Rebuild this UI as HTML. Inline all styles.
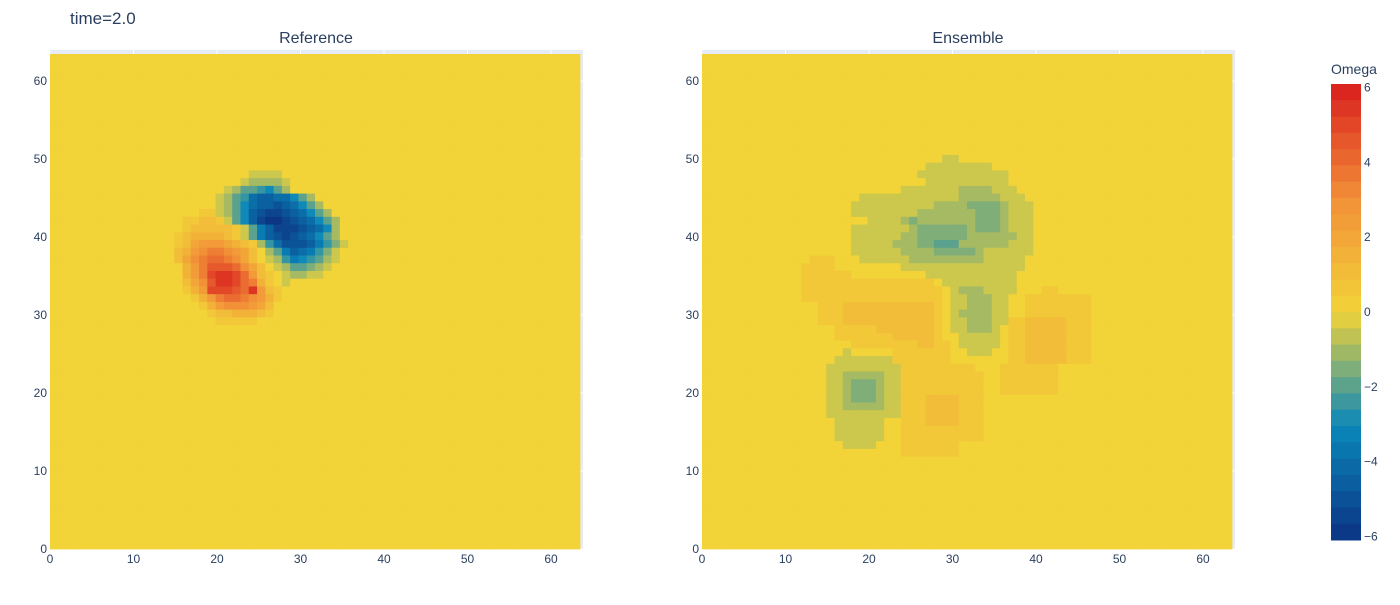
<!DOCTYPE html>
<html><head><meta charset="utf-8"><style>
body{margin:0;background:#fff;font-family:"Liberation Sans",sans-serif}
svg text{font-family:"Liberation Sans",sans-serif;fill:#2a3f5f}
</style></head><body>
<svg id="chart" width="1400" height="600" viewBox="0 0 1400 600" xmlns="http://www.w3.org/2000/svg">
<text x="70" y="24" font-size="17">time=2.0</text>
</svg>
<script>
// level chars: 'a'=-6 ... 'm'=0 ... 'y'=+6 (0.5 steps); '.' = 0
const levelChars = "abcdefghijklmnopqrstuvwxy";
const refStartCol = 14;
const refTopRow = 48;
const refRows = [
"..........llll........",
".........lkkkkl.......",
".......lkiihgik.......",
"......lkiheddeegik....",
"......lkigeddcdegik...",
"....nnlkigdcbbcdegik..",
"..nnoonligdbaabcdegik.",
"..nooooonlifdbbbcdegk.",
".nopppponlifdcbcdegik.",
".noqrrrqponkhecccdfhjl",
".oprsttsrqomkifdefhjl.",
".oqstuutsqomlkhfghikl.",
"..prtvvvusqomlkiijkl..",
"..prtwxxwuronmlkkll...",
"..oqsvxxwutpnml.......",
"..nprwwwvuxron........",
"...nprtuutsrpn........",
"....nprsssrqo.........",
".....noopppon.........",
"......nnnnn..........."
];
// ensemble segments: [row, colStart, colEnd, level]
const ensSegments = [
[50,29,30,'l'],[49,27,34,'l'],[48,26,36,'l'],[47,27,36,'l'],
[46,24,37,'l'],[46,31,34,'k'],[45,19,38,'l'],[45,31,35,'k'],
[44,18,39,'l'],[44,28,36,'k'],[44,32,35,'j'],
[43,18,39,'l'],[43,26,36,'k'],[43,33,35,'j'],
[42,20,39,'l'],[42,24,36,'k'],[42,25,25,'j'],[42,33,35,'j'],
[41,18,39,'l'],[41,25,36,'k'],[41,26,31,'j'],[41,33,35,'j'],
[40,18,39,'l'],[40,24,37,'k'],[40,26,31,'j'],
[39,18,39,'l'],[39,23,36,'k'],[39,26,30,'j'],[39,28,30,'i'],
[38,18,39,'l'],[38,24,33,'k'],[38,28,32,'j'],
[37,19,38,'l'],[37,25,33,'k'],[36,24,38,'l'],[35,27,37,'l'],[34,29,37,'l'],
[33,30,37,'l'],[33,31,33,'k'],[32,30,36,'l'],[32,32,34,'k'],
[31,30,36,'l'],[31,32,34,'k'],[30,30,36,'l'],[30,31,34,'k'],
[29,30,36,'l'],[29,32,34,'k'],[28,30,35,'l'],[28,32,34,'k'],
[27,31,35,'l'],[26,31,35,'l'],[25,32,34,'l'],
[37,13,15,'n'],[36,12,15,'n'],[35,12,17,'n'],[34,12,27,'n'],[33,12,28,'n'],[32,12,28,'n'],
[31,14,28,'n'],[31,17,27,'o'],[30,14,28,'n'],[30,17,27,'o'],[29,14,28,'n'],[29,17,27,'o'],
[28,16,28,'n'],[28,21,27,'o'],[27,16,28,'n'],[27,23,27,'o'],[26,18,29,'n'],[26,26,27,'o'],
[25,23,29,'n'],[24,23,29,'n'],[23,24,32,'n'],
[25,17,17,'l'],[24,16,22,'l'],[23,15,23,'l'],[22,15,23,'l'],[21,15,23,'l'],[20,15,23,'l'],
[19,15,23,'l'],[18,15,23,'l'],[17,15,23,'l'],
[22,17,21,'k'],[21,17,21,'k'],[20,17,21,'k'],[19,17,21,'k'],[18,17,21,'k'],
[21,18,20,'j'],[20,18,20,'j'],[19,18,20,'j'],
[16,16,21,'l'],[15,16,21,'l'],[14,16,21,'l'],[13,17,20,'l'],
[22,24,33,'n'],[21,24,33,'n'],[20,24,33,'n'],[19,24,33,'n'],[18,24,33,'n'],[17,24,33,'n'],
[16,24,33,'n'],[15,24,33,'n'],[14,24,33,'n'],[13,24,30,'n'],[12,24,30,'n'],
[19,27,30,'o'],[18,27,30,'o'],[17,27,30,'o'],[16,27,30,'o'],
[33,41,42,'n'],[32,39,46,'n'],[31,39,46,'n'],[30,39,46,'n'],
[29,37,46,'n'],[28,37,46,'n'],[27,37,46,'n'],[26,37,46,'n'],[25,37,46,'n'],[24,37,46,'n'],
[29,39,43,'o'],[28,39,43,'o'],[27,39,43,'o'],[26,39,43,'o'],[25,39,43,'o'],[24,39,43,'o'],
[23,36,42,'n'],[22,36,42,'n'],[21,36,42,'n'],[20,36,42,'n']
];
const tickValues = [0,10,20,30,40,50,60];
const cbTicks = [6,4,2,0,-2,-4,-6];
const zmin = -6.1, zmax = 6.1, N = 64;

const NS = "http://www.w3.org/2000/svg";
const svg = document.getElementById('chart');
function mk(tag, attrs, parent){const e=document.createElementNS(NS,tag);for(const k in attrs)e.setAttribute(k,attrs[k]);(parent||svg).appendChild(e);return e;}
const scale=[[0,[12,51,131]],[0.25,[10,136,186]],[0.5,[242,211,56]],[0.75,[242,143,56]],[1,[217,30,30]]];
function color(v){let t=(v-zmin)/(zmax-zmin);t=Math.max(0,Math.min(1,t));
 for(let i=1;i<scale.length;i++){if(t<=scale[i][0]){const a=scale[i-1],b=scale[i];const f=(t-a[0])/(b[0]-a[0]);
 const c=a[1].map((x,j)=>Math.round(x+(b[1][j]-x)*f));return `rgb(${c[0]},${c[1]},${c[2]})`;}}return 'rgb(217,30,30)';}
function lv(ch){const i=levelChars.indexOf(ch);return i<0?0:(i-12)*0.5;}

function grid(){const g=[];for(let r=0;r<N;r++)g.push(new Array(N).fill(0));return g;}
const refGrid=grid();
refRows.forEach((s,i)=>{const r=refTopRow-i;for(let j=0;j<s.length;j++)refGrid[r][refStartCol+j]=lv(s[j]);});
const ensGrid=grid();
ensSegments.forEach(([r,c0,c1,ch])=>{for(let c=c0;c<=c1;c++)ensGrid[r][c]=lv(ch);});

function panel(x0,name,title,data){
 const g=mk('g',{});
 
 
 const xs=v=>x0+8.35*v, ys=v=>549-7.8*v;
 const bg=mk('rect',{x:x0,y:50,width:533,height:499,fill:'#e5ecf6'},g);
 
 
 tickValues.forEach(v=>{mk('line',{x1:xs(v),x2:xs(v),y1:50,y2:549,stroke:'#fff','stroke-width':1},g);
  mk('line',{x1:x0,x2:x0+533,y1:ys(v),y2:ys(v),stroke:'#fff','stroke-width':1},g);});
 const cw=530/N, ch=495/N;
 for(let r=0;r<N;r++)for(let c=0;c<N;c++){
  const cell=mk('rect',{x:(x0+c*cw).toFixed(2),y:(549-(r+1)*ch).toFixed(2),width:(cw+0.4).toFixed(2),height:(ch+0.4).toFixed(2),fill:color(data[r][c])},g);
  
  
 }
 tickValues.forEach(v=>{
  const t=mk('text',{x:xs(v),y:563,'font-size':12,'text-anchor':'middle'},g);t.textContent=v;
  
  
  const u=mk('text',{x:x0-3,y:ys(v)+4,'font-size':12,'text-anchor':'end'},g);u.textContent=v;
  
  
 });
 const tt=mk('text',{x:x0+266,y:43,'font-size':16,'text-anchor':'middle'},g);tt.textContent=title;
 
 
}
panel(50,'reference-heatmap','Reference',refGrid);
panel(702,'ensemble-heatmap','Ensemble',ensGrid);

// colorbar
const cb=mk('g',{});


const cbTop=84, cbBot=540, bands=28;
for(let i=0;i<bands;i++){
 const v=zmax-(i+0.5)*(zmax-zmin)/bands;
 const b=mk('rect',{x:1331,y:cbTop+i*(cbBot-cbTop)/bands,width:30,height:(cbBot-cbTop)/bands+0.5,fill:color(v)},cb);
 
 
}
cbTicks.forEach(v=>{
 const y=cbTop+(zmax-v)/(zmax-zmin)*(cbBot-cbTop);
 const t=mk('text',{x:1364,y:y+4,'font-size':12},cb);t.textContent=v<0?'\u2212'+(-v):v;
 
 
});
const ct=mk('text',{x:1331,y:74,'font-size':14},cb);ct.textContent='Omega';


</script>
</body></html>
